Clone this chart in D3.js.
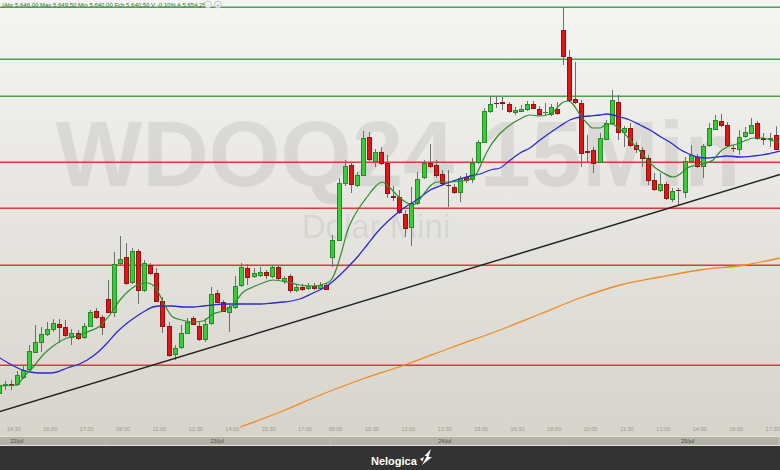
<!DOCTYPE html>
<html><head><meta charset="utf-8">
<script src="https://cdn.jsdelivr.net/npm/d3@7"></script>
<style>html,body{margin:0;padding:0;background:#333}svg{display:block}</style>
</head><body>
<svg id="chart" width="780" height="470"></svg>
<script>
// ---------- DATA (WDOQ24, 15 min candles) ----------
const firstIndex = -1; // first (partially visible) candle index
const openP = [5542.8,5546,5546.4,5546.4,5549.2,5552.4,5559.2,5563.2,5566.4,5568.4,5570.4,5569.2,5565.2,5566.8,5565.2,5569.6,5575.6,5573.2,
5580.4,5575.2,5594.8,5597.2,5587.2,5599.6,5584,5594,5590.8,5579.6,5569.6,5558.4,5561.2,5566.8,5572.8,5569.6,5564.4,5570.8,5582.8,5579.2,5575.2,5577.2,5586,5592.8,5589.6,5590,5591.2,5589.6,5593.2,5587.6,5589.6,5584,5585.2,5584.8,5585.6,5584.8,5586,
5597.2,5604,5626.8,5634,5626,5630,5645.2,5635.6,5639.2,5634.8,5621.6,5621.2,5614.4,5609.2,5618.8,5629.2,5634.8,5634,5630.4,5626,5625.2,5623.2,5629.2,5628.4,5635.2,5643.2,5655.6,5658.8,5659.2,5658.4,5655.2,5655.6,5656.4,5658.4,5656.4,5655.2,5654.4,5656.4,
5688,5677.2,5660.4,5658.8,5639.6,5640,5635.2,5644.4,5650.8,5659.2,5647.2,5648.8,5642,5640,5636.8,5628,5624,5626.4,5620.4,5624,5623.2,5635.6,5637.2,5633.6,5642,5648.4,5651.6,5650,5640.8,5640.4,5645.6,5646.8,5650.8,5644.8,5644.4,5646];
const highP = [5546.8,5547.6,5548,5551.6,5554,5562,5570,5569.2,5571.2,5572.4,5572.4,5572,5568.4,5568,5570.8,5576,5576.8,5574,
5588,5599.2,5605.6,5602.8,5600.8,5600.4,5596,5594.8,5592.8,5581.2,5571.2,5562,5570,5572.8,5573.6,5571.2,5572.8,5585.2,5584,5580,5578,5589.6,5594.8,5594.4,5592.8,5593.2,5592,5593.6,5594,5589.6,5590.4,5586,5586.4,5586.8,5586.8,5587.2,5586.8,
5606,5628.8,5636,5635.2,5631.2,5647.6,5647.2,5640.4,5641.2,5638,5625.6,5624,5616,5625.2,5631.2,5636,5642.4,5636,5632,5632,5626.4,5629.6,5630.8,5636.8,5644,5656.8,5661.6,5661.6,5661.2,5659.2,5657.2,5658,5659.6,5659.6,5657.6,5658.8,5658.4,5659.2,
5697.2,5680,5675.2,5660,5646,5641.2,5646.8,5652,5664,5662,5649.6,5650.8,5643.2,5641.2,5638,5630.8,5630.8,5627.2,5624.8,5624.8,5637.2,5642,5638.4,5642.4,5650.8,5654,5654.4,5651.2,5642,5648,5649.2,5652.8,5651.6,5646.8,5646.8,5649.5];
const lowP = [5542,5544,5544,5545.6,5548.4,5552,5558.8,5559.2,5565.6,5567.2,5562.8,5565.2,5562,5564,5564.4,5569.2,5572.4,5566,
5574.8,5573.2,5594,5586,5586.4,5578.4,5583.2,5590,5579.2,5566.8,5557.2,5556,5560.4,5566.4,5570,5563.6,5563.2,5570,5578.8,5575.2,5567.2,5576.4,5585.2,5586,5588.8,5589.2,5588.4,5588.8,5587.6,5586.4,5582.8,5583.2,5583.6,5584,5584,5584,5584,
5593.2,5603.6,5625.6,5622.8,5625.2,5629.6,5635.6,5633.2,5634,5620.8,5619.6,5614.4,5605.2,5601.6,5618,5628.4,5632.8,5628.8,5625.6,5617.2,5622.4,5619.2,5626.8,5626.8,5634.4,5642.8,5654.8,5656.8,5656,5654.8,5654,5655.2,5655.6,5656.4,5653.6,5654,5653.6,5654,
5674,5659.6,5658.4,5633.2,5634.8,5630.8,5634.8,5644,5650,5644,5641.2,5641.2,5638.8,5633.2,5626,5623.6,5623.2,5620,5619.2,5618,5620.8,5634.8,5632.8,5628.8,5641.2,5648,5649.2,5641.2,5639.2,5638,5644.8,5646.4,5644,5642,5641.2,5640];
const closeP = [5546,5546.4,5546,5550,5552,5559.6,5563.2,5566.4,5568.4,5570.8,5569.2,5566,5566.8,5564.8,5569.6,5575.2,5573.2,5569.2,
5575.2,5594.4,5596.4,5586.8,5599.6,5584,5594.8,5590.8,5579.6,5569.6,5558,5560.8,5566.8,5571.2,5570.4,5564.4,5570.4,5582.4,5579.2,5575.6,5577.2,5585.6,5593.2,5589.2,5590.8,5591.2,5590,5593.2,5588.8,5588.8,5584,5585.2,5584.4,5585.6,5584.8,5586,5584.4,
5604,5626.8,5633.6,5626.4,5630,5644.8,5636.4,5639.2,5634.8,5622.8,5621.4,5615.2,5608.8,5618.8,5628.4,5634.8,5633.6,5630,5626.8,5625.8,5623.2,5628.8,5628,5634.8,5643.2,5655.6,5658.4,5658.6,5659,5655.6,5656,5656.4,5658.4,5656.8,5654.4,5655.4,5657.2,5654.8,
5677.6,5660,5659.2,5638.8,5639.4,5634.8,5644.8,5650.8,5660,5647.2,5648.8,5642,5640.4,5636.8,5628,5624.4,5626.4,5620.8,5623.6,5623.8,5635.6,5638,5633.6,5641.6,5648.8,5652,5650,5642,5640.6,5645.2,5647.2,5650,5644.8,5644.4,5644.8,5640.5];

// short moving average (green): [candle index, price]
const maShort = [[-1,5545.6],[2,5546],[3,5548.8],[4.7,5553.2],[6.3,5558],[8,5561.6],[10.3,5564.8],[11.9,5565.6],[13.6,5567.2],[15.7,5569.6],[17.3,5574],[19,5580],[20.6,5584],[22.3,5586.4],[23.6,5586.8],[25.1,5584],[26.1,5579.2],[27.7,5573.2],[29.2,5572],[31,5571.2],[32.7,5571.6],[34.3,5574.4],[35.9,5575.6],[37.6,5578],[39.3,5583.2],[40.9,5585.2],[42.1,5586.4],[44.2,5588],[46.5,5587.2],[48.6,5586],[50.8,5585.6],[53.1,5586.8],[53.9,5588.4],[54.7,5592.8],[55.6,5600],[56.4,5607.2],[57.4,5612.8],[58.5,5617.2],[59.7,5621.2],[61,5625.2],[62.2,5627.2],[63,5626],[64.6,5622],[66.3,5618.8],[67.1,5618],[67.9,5618.8],[68.9,5622],[70.1,5625.6],[71.2,5627.2],[72.9,5627.2],[75.5,5627.6],[76.7,5628.4],[77.8,5630.8],[78.8,5636],[79.9,5641.2],[81.1,5645.2],[82.8,5649.2],[84.9,5652.4],[86.5,5654],[88.2,5653.6],[89.8,5654.4],[91,5656.8],[91.8,5658.8],[92.8,5659.6],[93.6,5658.4],[94.8,5654],[95.9,5650.8],[96.9,5648.8],[98.1,5648.8],[99.2,5650.4],[100,5650.4],[100.9,5649.2],[101.9,5647.2],[103,5644],[104.2,5640.8],[105.2,5638],[106.3,5634.8],[108.5,5630.8],[110.1,5629.2],[111.3,5630.4],[112.4,5632.8],[113.4,5633.6],[115,5634.4],[116.7,5636],[117.8,5639.2],[119,5641.2],[120.6,5642.4],[122.3,5644],[123.3,5644.8],[125,5644.8],[126.6,5643.6],[127.7,5642.8]];
// medium moving average (blue)
const maMid = [[-0.8,5556.8],[0.9,5554.4],[2.5,5552.4],[4.2,5551.2],[5.8,5550.8],[7.5,5550.8],[8.6,5551.2],[10.3,5552.8],[11.9,5554],[13.6,5556],[15.2,5558.8],[16.9,5562.8],[18.5,5567.2],[20.2,5570.8],[21.8,5573.6],[23.4,5576],[24.4,5577.2],[25.6,5577.6],[27.7,5577.6],[29.4,5577.2],[31,5577.2],[32.7,5577.6],[34.3,5578],[35.9,5578.4],[39.3,5578.4],[42.1,5578.4],[44.2,5578.8],[46,5579.2],[48.6,5580.4],[50.8,5582.8],[53.1,5585.6],[54.7,5588.8],[56.4,5592.8],[58.1,5597.2],[59.7,5602],[61.4,5607.2],[63,5611.2],[64.3,5614],[66,5617.2],[67.6,5619.6],[69.2,5622.4],[70.1,5624],[71.7,5625.6],[73.4,5627.2],[75,5628.4],[76.7,5629.6],[78.3,5630.4],[80,5632],[81.6,5632.8],[83.3,5636],[84.9,5638.8],[86.5,5640.8],[88.2,5644],[89.8,5646.8],[91.5,5649.6],[93.1,5652],[94.8,5653.2],[96.4,5653.6],[98.1,5654],[99.2,5654.4],[100.2,5654],[101.4,5653.2],[103,5652],[104.7,5650],[106.3,5648],[108.1,5645.2],[109.8,5642.8],[111.4,5640],[112.4,5638.8],[113.2,5638],[114.1,5637.2],[115.7,5636.8],[117.4,5637.2],[119,5637.6],[121.1,5637.2],[123.3,5637.6],[125.6,5638.4],[127.7,5639.6]];
// long moving average (orange)
const maLong = [[38.8,5529.2],[45.4,5535.2],[52,5542],[58.5,5548],[65.9,5554],[73.4,5560.8],[81.6,5568],[88.2,5574.4],[94.8,5580.8],[101.4,5586],[108,5589.2],[114.5,5592],[122,5594],[127.7,5596.8]];
// support trend line
const trendLine = [[-0.8,5535.4],[127.7,5630.2]];
// horizontal levels
const greenLevels = [5697.2,5676.4,5661.6];
const redLevels = [5635.2,5616.8,5594,5554];
// time axis
const tickIdx = [1,7,13,19,25,31,37,43,49,54,60,66,72,78,84,90,96,102,108,114,120,126];
const tickLabels = ["14:30","16:00","17:30","09:30","11:00","12:30","14:00","15:30","17:00","09:00","10:30","12:00","13:30","15:00","16:30","18:00","10:00","11:30","13:00","14:30","16:00","17:30"];
const dayLabels = ["22/jul","23/jul","24/jul","25/jul"];
const dayStart = [-1,17,54,92];
const dayEnd = [16,53,91,127];
const dayLabelIdx = [2,35,72.5,112.5];
const lastVar = "-0,10%", lastAvg = 5654.25;

// ---------- DRAWING ----------
const W = 780, PB = 437;
const FONT = "'Liberation Sans',Arial,sans-serif";
const svg = d3.select("#chart");
const x = d3.scaleLinear().domain([-1,127]).range([-1.4,775.6]);
const y = d3.scaleLinear().domain([5700,5532]).range([0,420]);
const candles = openP.map((o,k)=>({i:firstIndex+k,o,h:highP[k],l:lowP[k],c:closeP[k]}));

const defs = svg.append("defs");
const g1 = defs.append("linearGradient").attr("id","bg").attr("x1",0).attr("y1",0).attr("x2",0).attr("y2",1);
g1.append("stop").attr("offset","0%").attr("stop-color","#f5f5f4");
g1.append("stop").attr("offset","100%").attr("stop-color","#d7d4cc");
defs.append("clipPath").attr("id","clip").append("rect").attr("x",0).attr("y",0).attr("width",W).attr("height",PB);

svg.append("rect").attr("x",0).attr("y",0).attr("width",W).attr("height",470).attr("fill","#333333");
svg.append("rect").attr("x",0).attr("y",0).attr("width",W).attr("height",PB).attr("fill","url(#bg)");

// watermark
svg.append("text").attr("x",398).attr("y",186).attr("text-anchor","middle")
  .style("font-family",FONT).style("font-weight","bold").style("font-size","92px")
  .attr("fill","#000").attr("fill-opacity",0.075).text("WDOQ24 15Min");
svg.append("text").attr("x",376).attr("y",238).attr("text-anchor","middle")
  .style("font-family",FONT).style("font-size","33px")
  .attr("fill","#000").attr("fill-opacity",0.075).text("Dolar Mini");

const plot = svg.append("g").attr("clip-path","url(#clip)");
const crisp = v => Math.round(v)+0.5;

// levels
plot.selectAll(".lvG").data(greenLevels).join("line")
  .attr("x1",0).attr("x2",W).attr("y1",d=>Math.round(y(d))+0.25).attr("y2",d=>Math.round(y(d))+0.25)
  .attr("stroke","#48a448").attr("stroke-width",1.5);
plot.selectAll(".lvR").data(redLevels).join("line")
  .attr("x1",0).attr("x2",W).attr("y1",d=>Math.round(y(d))+0.25).attr("y2",d=>Math.round(y(d))+0.25)
  .attr("stroke","#dc3a3a").attr("stroke-width",1.5);

// candles
const cg = plot.append("g");
cg.selectAll("line.wick").data(candles).join("line").attr("class","wick")
  .attr("x1",d=>crisp(x(d.i))).attr("x2",d=>crisp(x(d.i)))
  .attr("y1",d=>y(d.h)).attr("y2",d=>y(d.l)).attr("stroke","#6e6e6e").attr("stroke-width",1);
cg.selectAll("rect.body").data(candles).join("rect").attr("class","body")
  .attr("x",d=>Math.round(x(d.i))-1.5)
  .attr("y",d=>Math.round(y(Math.max(d.o,d.c)))+0.5)
  .attr("width",4)
  .attr("height",d=>Math.max(0.01,Math.round(y(Math.min(d.o,d.c)))-Math.round(y(Math.max(d.o,d.c)))))
  .attr("fill",d=>d.c>=d.o?"#38cc38":"#e01616")
  .attr("stroke",d=>d.c>=d.o?"#268a26":"#961010").attr("stroke-width",1);

// moving averages and trend line
const line = d3.line().x(d=>x(d[0])).y(d=>y(d[1])).curve(d3.curveMonotoneX);
plot.append("path").attr("d",line(maLong)).attr("fill","none").attr("stroke","#f28a1e").attr("stroke-width",1.3);
plot.append("path").attr("d",line(maMid)).attr("fill","none").attr("stroke","#2a2ad0").attr("stroke-width",1.3);
plot.append("path").attr("d",line(maShort)).attr("fill","none").attr("stroke","#2c8e2c").attr("stroke-width",1.2);
plot.append("path").attr("d",d3.line().x(d=>x(d[0])).y(d=>y(d[1]))(trendLine)).attr("fill","none").attr("stroke","#222").attr("stroke-width",1.5);

// time axis
const axis = d3.axisBottom(x).tickValues(tickIdx).tickFormat((d,k)=>tickLabels[k]).tickSize(0);
const ax = svg.append("g").attr("transform","translate(0,426)").call(axis);
ax.select(".domain").remove();
ax.selectAll("text").attr("dx",2.5).attr("dy",0).attr("y",5)
  .style("font-family",FONT).style("font-size","5.6px").attr("fill","#9c998f");

// date band
const band = svg.append("g");
band.append("rect").attr("x",0).attr("y",PB-1).attr("width",W).attr("height",10).attr("fill","#e2dfd8");
band.selectAll("rect.day").data(dayLabels).join("rect").attr("class","day")
  .attr("x",(d,k)=>Math.max(0,x(dayStart[k])-2))
  .attr("y",PB).attr("height",8)
  .attr("width",(d,k)=>Math.min(W,x(dayEnd[k])+4)-Math.max(0,x(dayStart[k])-2))
  .attr("fill","#b4b1a7");
band.selectAll("text").data(dayLabels).join("text")
  .attr("x",(d,k)=>x(dayLabelIdx[k])).attr("y",PB+6).attr("text-anchor","middle")
  .style("font-family",FONT).style("font-size","5.5px").attr("fill","#4a4a44").text(d=>d);

// footer
svg.append("rect").attr("x",0).attr("y",PB+9).attr("width",W).attr("height",470-PB-9).attr("fill","#333333");
svg.append("text").attr("x",371).attr("y",465)
  .style("font-family",FONT).style("font-weight","bold").style("font-size","11px")
  .attr("fill","#ffffff").text("Nelogica");
svg.append("path").attr("d","M422,465 L427,456 L424.5,456 L431,449 L428.5,457 L432,457 Z M420,459 L424,457 L422.5,461.5 Z").attr("fill","#ffffff");

// header
const loc = d3.formatLocale({decimal:",",thousands:".",grouping:[3],currency:["R$",""]});
const f = loc.format(",.2f");
const last = candles[candles.length-1];
svg.append("text").attr("x",2).attr("y",7)
  .style("font-family",FONT).style("font-size","6px").attr("fill","#2f6f2f")
  .text(`(Abr ${f(last.o)} Max ${f(last.h)} Min ${f(last.l)} Fch ${f(last.c)} V ${lastVar} A ${f(lastAvg)})`);
[208,218].forEach((cx,k)=>{
  svg.append("circle").attr("cx",cx).attr("cy",4.5).attr("r",3.5).attr("fill","#f4f4f4").attr("stroke","#b0b0b0").attr("stroke-width",0.7);
  svg.append("text").attr("x",cx).attr("y",6.5).attr("text-anchor","middle").style("font-family",FONT).style("font-size","6px").attr("fill","#888").text(k?"+":"-");
});
</script>
</body></html>
